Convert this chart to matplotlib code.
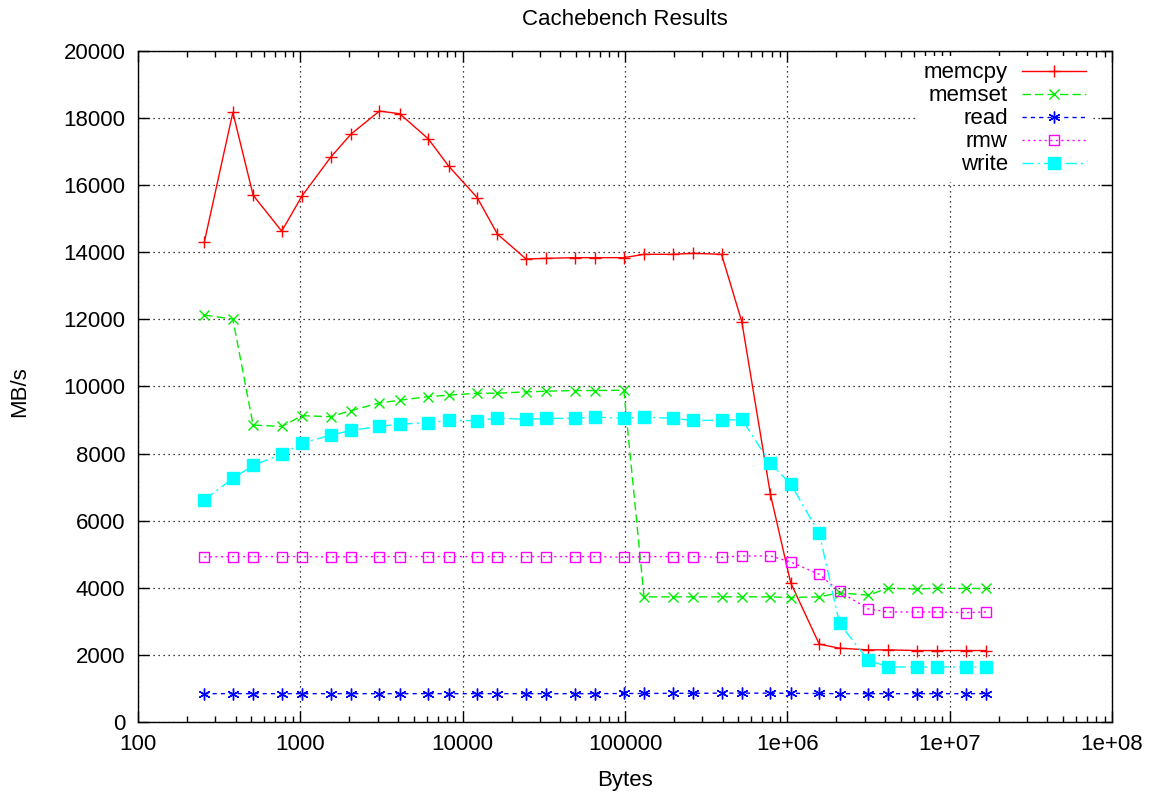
import matplotlib
matplotlib.use("Agg")
import matplotlib.pyplot as plt
from matplotlib.ticker import LogLocator, FixedLocator, FixedFormatter, MultipleLocator, NullFormatter

plt.rcParams['font.family'] = ['Liberation Sans', 'DejaVu Sans']

sizes = [256, 384, 512, 768, 1024, 1536, 2048, 3072, 4096, 6144, 8192, 12288,
         16384, 24576, 32768, 49152, 65536, 98304, 131072, 196608, 262144,
         393216, 524288, 786432, 1048576, 1572864, 2097152, 3145728, 4194304,
         6291456, 8388608, 12582912, 16777216]

memcpy = [14300, 18170, 15700, 14630, 15680, 16830, 17520, 18210, 18130, 17380,
          16570, 15630, 14540, 13800, 13820, 13840, 13840, 13840, 13940, 13940,
          13970, 13940, 11930, 6790, 4150, 2320, 2200, 2150, 2150, 2130, 2130,
          2130, 2130]

memset = [12130, 12010, 8850, 8810, 9130, 9100, 9280, 9510, 9590, 9700, 9740,
          9800, 9800, 9840, 9860, 9880, 9880, 9890, 3730, 3730, 3730, 3730,
          3730, 3730, 3710, 3730, 3850, 3780, 3990, 3960, 3990, 3980, 3980]

read = [845, 845, 845, 845, 845, 845, 845, 845, 845, 845, 845, 845, 845, 845,
        845, 845, 845, 850, 850, 855, 855, 860, 860, 860, 855, 850, 845, 845,
        845, 845, 845, 845, 845]

rmw = [4920, 4930, 4930, 4930, 4930, 4920, 4930, 4930, 4930, 4930, 4930, 4930,
       4930, 4930, 4930, 4930, 4930, 4910, 4930, 4930, 4930, 4910, 4950, 4950,
       4770, 4400, 3890, 3370, 3280, 3280, 3280, 3260, 3280]

write = [6620, 7260, 7650, 7980, 8310, 8550, 8690, 8810, 8880, 8920, 8990, 8980,
         9060, 9020, 9050, 9050, 9090, 9050, 9090, 9050, 8990, 8990, 9020, 7710,
         7090, 5620, 2940, 1840, 1640, 1640, 1640, 1640, 1640]

series = ["memcpy", "memset", "read", "rmw", "write"]

xtick_vals = [100, 1000, 10000, 100000, 1e6, 1e7, 1e8]
xtick_labels = ["100", "1000", "10000", "100000", "1e+06", "1e+07", "1e+08"]

FS = 16

fig = plt.figure(figsize=(11.59, 7.95), dpi=100)
ax = fig.add_axes([138/1159, 1-722/795, (1112-138)/1159, (722-51)/795])

asterisk = (6, 2, 0)
styles = {
    "memcpy": dict(color="#ff0000", linestyle="-", marker="+", ms=8, mew=1.0, mfc="none"),
    "memset": dict(color="#00ee00", linestyle=(0, (6, 3)), marker="x", ms=6.5, mew=1.0, mfc="none"),
    "read": dict(color="#0000ff", linestyle=(0, (3, 3)), marker=asterisk, ms=8.5, mew=1.0, mfc="none"),
    "rmw": dict(color="#ff00ff", linestyle=(0, (1.5, 2.5)), marker="s", ms=7.5, mew=1.0, mfc="none"),
    "write": dict(color="#00ffff", linestyle=(0, (8, 3, 1.5, 3)), marker="s", ms=8, mew=1.0),
}
data = {"memcpy": memcpy, "memset": memset, "read": read, "rmw": rmw, "write": write}

for name in series:
    st = styles[name]
    ax.plot(sizes, data[name], label=name, lw=1.0, **st)

ax.set_xscale("log")
ax.set_xlim(100, 1e8)
ax.set_ylim(0, 20000)
ax.xaxis.set_major_locator(FixedLocator(xtick_vals))
ax.xaxis.set_major_formatter(FixedFormatter(xtick_labels))
ax.xaxis.set_minor_locator(LogLocator(base=10, subs=range(2, 10), numticks=20))
ax.xaxis.set_minor_formatter(NullFormatter())
ax.yaxis.set_major_locator(MultipleLocator(2000))

ax.tick_params(which="both", direction="in", top=True, right=True, labelsize=FS, colors="black")
ax.tick_params(which="major", length=8, width=1)
ax.tick_params(axis="y", which="major", pad=9)
ax.tick_params(axis="x", which="major", pad=9)
ax.tick_params(which="minor", length=4, width=1)
ax.grid(True, which="major", color="black", linestyle=(0, (1, 3)), linewidth=0.9)
for sp in ax.spines.values():
    sp.set_linewidth(1.0)
    sp.set_color("black")

ax.set_xlabel("Bytes", fontsize=FS)
ax.xaxis.set_label_coords(0.5, -0.071)
ax.set_ylabel("MB/s", fontsize=FS)
ax.yaxis.set_label_coords(-0.111, 0.493)
ax.set_title("Cachebench Results", fontsize=FS, pad=19)

leg = ax.legend(loc="upper right", bbox_to_anchor=(0.9805, 0.993), borderaxespad=0,
                markerfirst=False, frameon=True, fontsize=FS,
                handlelength=2.9, labelspacing=0.09, borderpad=0.3,
                handletextpad=0.63, fancybox=False)
leg.get_frame().set_facecolor("white")
leg.get_frame().set_edgecolor("none")
leg.get_frame().set_alpha(1.0)
for t in leg.get_texts():
    t.set_ha("right")

fig.savefig("out.png", dpi=100)
